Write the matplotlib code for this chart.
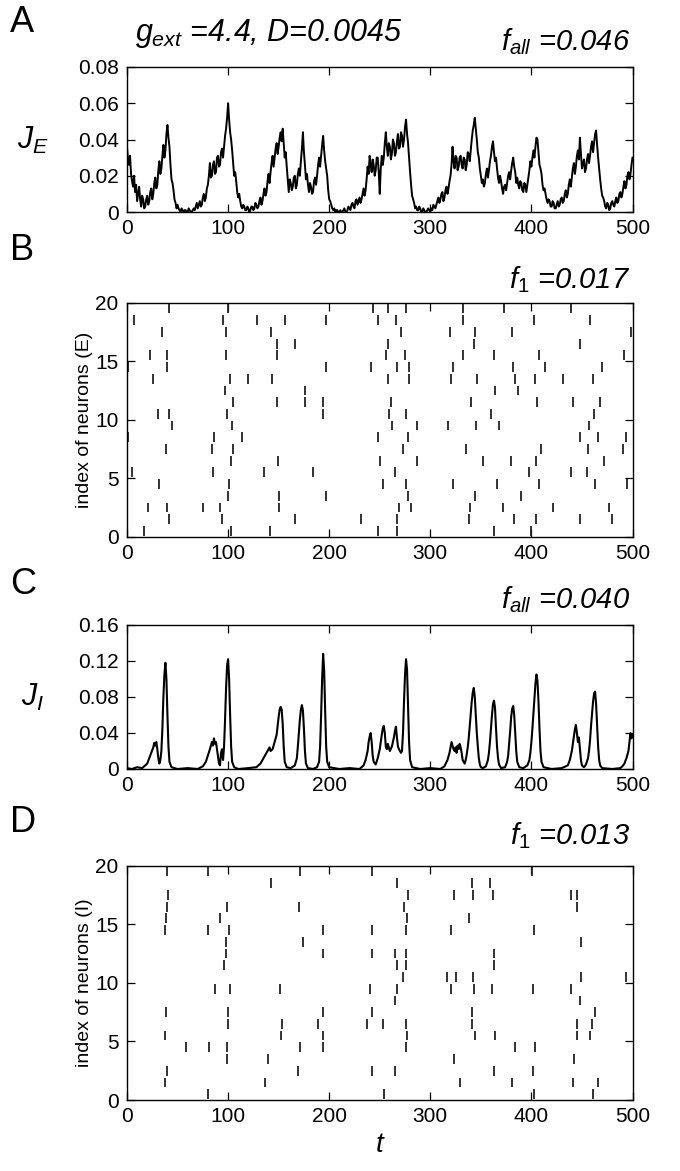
import matplotlib
matplotlib.use("Agg")
import matplotlib.pyplot as plt
import numpy as np

plt.rcParams['font.family'] = ['Liberation Sans', 'DejaVu Sans']
plt.rcParams['mathtext.fontset'] = 'custom'
plt.rcParams['mathtext.rm'] = 'Liberation Sans'
plt.rcParams['mathtext.it'] = 'Liberation Sans:italic'
plt.rcParams['mathtext.bf'] = 'Liberation Sans:bold'

# ---------------- data ----------------
x_ticks = [0, 100, 200, 300, 400, 500]
jE_yticks = [0, 0.02, 0.04, 0.06, 0.08]
jE_yticklabels = ["0", "0.02", "0.04", "0.06", "0.08"]
jI_yticks = [0, 0.04, 0.08, 0.12, 0.16]
jI_yticklabels = ["0", "0.04", "0.08", "0.12", "0.16"]
raster_yticks = [0, 5, 10, 15, 20]

# J_E sampled every time unit, t = 0..500
jE_time = np.arange(0, 501, 1)
jE_values = [
    0.036, 0.029, 0.026, 0.031, 0.021, 0.017, 0.014, 0.020, 0.011, 0.015,
    0.006, 0.010, 0.014, 0.007, 0.003, 0.009, 0.007, 0.002, 0.003, 0.007,
    0.009, 0.004, 0.006, 0.011, 0.013, 0.007, 0.010, 0.016, 0.019, 0.013,
    0.015, 0.023, 0.028, 0.021, 0.024, 0.031, 0.037, 0.030, 0.034, 0.043,
    0.048, 0.041, 0.036, 0.026, 0.018, 0.016, 0.012, 0.007, 0.005, 0.002,
    0.004, 0.002, 0.001, 0.000, 0.002, 0.001, 0.000, 0.001, 0.001, 0.000,
    0.000, 0.002, 0.001, 0.000, 0.000, 0.001, 0.002, 0.001, 0.003, 0.005,
    0.002, 0.004, 0.006, 0.003, 0.004, 0.008, 0.010, 0.006, 0.008, 0.013,
    0.015, 0.020, 0.027, 0.019, 0.020, 0.026, 0.028, 0.021, 0.022, 0.030,
    0.031, 0.025, 0.026, 0.033, 0.035, 0.030, 0.036, 0.042, 0.046, 0.052,
    0.060, 0.051, 0.044, 0.040, 0.034, 0.027, 0.020, 0.022, 0.017, 0.011,
    0.008, 0.010, 0.006, 0.003, 0.002, 0.004, 0.003, 0.001, 0.001, 0.003,
    0.002, 0.000, 0.001, 0.003, 0.003, 0.001, 0.002, 0.005, 0.004, 0.002,
    0.003, 0.006, 0.008, 0.004, 0.006, 0.010, 0.013, 0.009, 0.011, 0.017,
    0.021, 0.016, 0.022, 0.027, 0.031, 0.025, 0.030, 0.035, 0.038, 0.032,
    0.036, 0.041, 0.044, 0.039, 0.046, 0.038, 0.030, 0.033, 0.025, 0.018,
    0.011, 0.018, 0.016, 0.012, 0.014, 0.019, 0.020, 0.013, 0.015, 0.021,
    0.024, 0.020, 0.028, 0.035, 0.044, 0.033, 0.026, 0.018, 0.021, 0.015,
    0.011, 0.016, 0.014, 0.010, 0.011, 0.017, 0.019, 0.015, 0.020, 0.026,
    0.030, 0.025, 0.031, 0.037, 0.042, 0.034, 0.028, 0.024, 0.020, 0.012,
    0.007, 0.006, 0.004, 0.002, 0.001, 0.002, 0.000, 0.001, 0.001, 0.000,
    0.000, 0.001, 0.000, 0.000, 0.001, 0.002, 0.000, 0.000, 0.001, 0.003,
    0.002, 0.001, 0.004, 0.005, 0.003, 0.002, 0.006, 0.007, 0.004, 0.006,
    0.008, 0.005, 0.007, 0.010, 0.013, 0.009, 0.012, 0.018, 0.025, 0.021,
    0.031, 0.026, 0.022, 0.029, 0.026, 0.020, 0.023, 0.030, 0.030, 0.022,
    0.010, 0.024, 0.031, 0.026, 0.030, 0.038, 0.044, 0.036, 0.031, 0.038,
    0.036, 0.029, 0.032, 0.040, 0.038, 0.031, 0.033, 0.039, 0.043, 0.035,
    0.036, 0.044, 0.042, 0.036, 0.040, 0.047, 0.051, 0.043, 0.038, 0.030,
    0.022, 0.015, 0.009, 0.007, 0.005, 0.002, 0.003, 0.001, 0.001, 0.003,
    0.002, 0.000, 0.000, 0.002, 0.001, 0.000, 0.000, 0.001, 0.002, 0.001,
    0.000, 0.002, 0.001, 0.004, 0.003, 0.002, 0.004, 0.006, 0.008, 0.005,
    0.007, 0.010, 0.011, 0.006, 0.008, 0.012, 0.014, 0.010, 0.013, 0.017,
    0.020, 0.026, 0.036, 0.028, 0.024, 0.031, 0.030, 0.023, 0.025, 0.030,
    0.031, 0.026, 0.024, 0.030, 0.029, 0.023, 0.026, 0.033, 0.032, 0.028,
    0.034, 0.040, 0.045, 0.048, 0.052, 0.046, 0.040, 0.033, 0.030, 0.024,
    0.020, 0.016, 0.018, 0.014, 0.016, 0.021, 0.024, 0.019, 0.023, 0.028,
    0.031, 0.036, 0.039, 0.033, 0.028, 0.030, 0.024, 0.019, 0.016, 0.020,
    0.017, 0.013, 0.010, 0.014, 0.015, 0.012, 0.016, 0.020, 0.022, 0.018,
    0.023, 0.027, 0.030, 0.025, 0.022, 0.016, 0.019, 0.015, 0.013, 0.017,
    0.016, 0.012, 0.011, 0.016, 0.015, 0.011, 0.015, 0.019, 0.023, 0.028,
    0.025, 0.030, 0.034, 0.030, 0.036, 0.041, 0.040, 0.033, 0.026, 0.024,
    0.021, 0.015, 0.012, 0.013, 0.010, 0.007, 0.005, 0.007, 0.006, 0.003,
    0.003, 0.006, 0.005, 0.002, 0.002, 0.004, 0.006, 0.003, 0.004, 0.007,
    0.008, 0.005, 0.006, 0.010, 0.012, 0.008, 0.010, 0.015, 0.018, 0.014,
    0.019, 0.024, 0.027, 0.021, 0.025, 0.031, 0.034, 0.029, 0.041, 0.032,
    0.024, 0.027, 0.029, 0.022, 0.024, 0.029, 0.032, 0.027, 0.031, 0.036,
    0.039, 0.033, 0.038, 0.043, 0.045, 0.037, 0.030, 0.024, 0.018, 0.013,
    0.009, 0.008, 0.006, 0.003, 0.002, 0.005, 0.004, 0.001, 0.002, 0.005,
    0.006, 0.004, 0.003, 0.006, 0.008, 0.005, 0.006, 0.010, 0.011, 0.008,
    0.010, 0.014, 0.017, 0.013, 0.015, 0.020, 0.022, 0.018, 0.021, 0.026,
    0.030,
]

# J_I: (time, value) breakpoints
jI_time = [
    0, 5, 10, 15, 18, 20, 22, 24, 26, 27, 28, 29, 30, 31, 32, 33, 34, 35, 36, 37, 38, 39, 40, 41, 42, 44,
    50, 60, 70, 75, 78, 80, 82, 84, 85, 86, 87, 88, 89, 90, 91, 92, 93, 94, 95, 96, 97, 98, 99, 100,
    101, 102, 103, 104, 106, 110, 120, 128, 132, 135, 138, 140, 141, 142, 144, 146, 148, 149, 150,
    151, 152, 153, 154, 155, 156, 158, 162, 166, 168, 169, 170, 171, 172, 173, 174, 175, 176, 177,
    179, 184, 188, 190, 191, 192, 193, 194, 195, 196, 197, 198, 200, 210, 220, 230, 234, 236, 238,
    239, 240, 241, 242, 243, 244, 246, 248, 250, 251, 252, 253, 254, 255, 256, 257, 258, 259, 260,
    262, 264, 265, 266, 267, 268, 269, 270, 271, 272, 273, 274, 275, 276, 277, 278, 279, 280, 282,
    290, 300, 310, 314, 317, 319, 320, 321, 322, 323, 324, 325, 326, 327, 328, 329, 330, 331, 332,
    333, 334, 335, 336, 337, 338, 339, 340, 341, 342, 343, 344, 345, 346, 347, 348, 349, 350, 352,
    355, 357, 358, 359, 360, 361, 362, 363, 364, 365, 366, 367, 368, 370, 374, 376, 377, 378, 379,
    380, 381, 382, 383, 384, 385, 386, 388, 392, 396, 398, 399, 400, 401, 402, 403, 404, 405, 406,
    407, 408, 409, 410, 412, 420, 430, 436, 438, 440, 441, 442, 443, 444, 445, 446, 447, 448, 449,
    450, 452, 454, 456, 457, 458, 459, 460, 461, 462, 463, 464, 465, 466, 467, 468, 470, 480, 488,
    490, 492, 494, 496, 497, 498, 499, 500,
]
jI_values = [
    0.001, 0.000, 0.002, 0.001, 0.004, 0.006, 0.012, 0.018, 0.024, 0.029, 0.026, 0.030, 0.022, 0.012,
    0.006, 0.010, 0.020, 0.045, 0.080, 0.105, 0.118, 0.100, 0.060, 0.025, 0.008, 0.002,
    0.000, 0.001, 0.000, 0.003, 0.008, 0.015, 0.022, 0.030, 0.026, 0.034, 0.028, 0.030, 0.022, 0.014,
    0.006, 0.004, 0.018, 0.022, 0.010, 0.025, 0.055, 0.090, 0.115, 0.122,
    0.100, 0.060, 0.025, 0.008, 0.002, 0.000, 0.001, 0.002, 0.006, 0.012, 0.018, 0.022, 0.024, 0.020,
    0.022, 0.030, 0.038, 0.048, 0.058,
    0.066, 0.069, 0.066, 0.050, 0.025, 0.008, 0.002, 0.001, 0.004, 0.012, 0.025, 0.040, 0.055, 0.066,
    0.071, 0.065, 0.045, 0.020, 0.006,
    0.001, 0.000, 0.002, 0.008, 0.025, 0.060, 0.100, 0.128, 0.110, 0.065, 0.025, 0.008, 0.002, 0.000,
    0.001, 0.000, 0.004, 0.010, 0.020,
    0.030, 0.036, 0.040, 0.030, 0.015, 0.008, 0.005, 0.012, 0.022, 0.030, 0.038, 0.045, 0.048, 0.040,
    0.025, 0.022, 0.028, 0.024, 0.020,
    0.025, 0.035, 0.042, 0.047, 0.035, 0.025, 0.022, 0.020, 0.018, 0.020, 0.040, 0.075, 0.105, 0.122,
    0.110, 0.070, 0.030, 0.010, 0.002,
    0.000, 0.001, 0.000, 0.003, 0.010, 0.018, 0.024, 0.030, 0.026, 0.022, 0.020, 0.024, 0.018, 0.026,
    0.022, 0.028, 0.024, 0.018, 0.010,
    0.008, 0.006, 0.010, 0.016, 0.024, 0.034, 0.048, 0.062, 0.075, 0.085, 0.090, 0.080, 0.060, 0.040,
    0.025, 0.012, 0.005, 0.002, 0.001,
    0.003, 0.010, 0.018, 0.030, 0.045, 0.060, 0.072, 0.076, 0.068, 0.045, 0.025, 0.012, 0.005, 0.001,
    0.002, 0.008, 0.015, 0.028, 0.042,
    0.058, 0.067, 0.070, 0.060, 0.040, 0.020, 0.008, 0.002, 0.001, 0.004, 0.010, 0.018, 0.030, 0.045,
    0.062, 0.080, 0.095, 0.105, 0.098,
    0.075, 0.045, 0.020, 0.008, 0.002, 0.000, 0.001, 0.004, 0.010, 0.020, 0.028, 0.036, 0.044, 0.049,
    0.040, 0.030, 0.035, 0.022, 0.010,
    0.004, 0.002, 0.005, 0.012, 0.020, 0.032, 0.048, 0.062, 0.075, 0.084, 0.086, 0.072, 0.048, 0.025,
    0.010, 0.004, 0.001, 0.000, 0.001,
    0.003, 0.006, 0.012, 0.020, 0.030, 0.040, 0.034, 0.038,
]

# spike times per neuron (row index 0..19), excitatory
exc_spikes = [
    [17.2, 103.2, 141.6, 248.4, 266.9, 362.7, 400.0],
    [41.6, 93.5, 166.6, 231.5, 266.9, 338.3, 383.1, 404.2, 447.7, 479.5],
    [20.8, 39.3, 75.0, 91.6, 150.0, 269.2, 280.5, 339.3, 372.4, 421.8, 476.3],
    [100.0, 150.0, 196.4, 277.6, 344.0, 389.3],
    [31.2, 101.0, 252.9, 276.0, 322.7, 365.9, 408.0, 463.3, 494.8],
    [5.2, 85.4, 136.0, 184.4, 264.6, 397.4, 439.0, 455.2],
    [103.2, 149.0, 250.6, 286.4, 352.0, 379.9, 404.2, 471.4],
    [38.6, 83.8, 105.2, 272.7, 335.0, 409.7, 456.2, 490.9],
    [0.5, 86.4, 113.6, 248.4, 277.6, 447.7, 465.9, 494.0],
    [44.8, 104.2, 262.0, 286.4, 317.2, 344.8, 367.5, 456.8],
    [30.2, 41.6, 99.4, 194.0, 258.8, 276.0, 360.0, 462.3],
    [104.9, 148.0, 175.6, 194.0, 261.4, 340.6, 405.5, 441.2, 467.5],
    [96.8, 176.0, 363.6, 387.0],
    [26.0, 101.6, 119.5, 143.0, 257.8, 278.9, 320.5, 346.4, 383.8, 403.9, 430.8, 460.7],
    [1.3, 40.0, 197.0, 241.6, 266.9, 279.0, 322.0, 382.0, 413.0, 469.8],
    [23.0, 40.0, 97.7, 148.0, 256.0, 275.0, 332.0, 362.7, 407.5, 491.6],
    [148.7, 166.0, 258.0, 343.0, 448.0],
    [34.4, 97.7, 142.0, 271.0, 319.8, 344.0, 381.0, 498.4],
    [6.8, 95.0, 129.0, 156.0, 197.0, 248.4, 265.9, 332.5, 402.6, 458.4],
    [41.9, 100.0, 243.0, 258.0, 275.6, 332.5, 373.0, 439.0],
]

# spike times per neuron (row index 0..19), inhibitory
inh_spikes = [
    [80.5, 253.9, 402.9, 460.7],
    [38.0, 136.7, 329.2, 380.5, 441.2, 465.6],
    [39.3, 168.8, 242.5, 265.3, 362.7, 401.3],
    [99.4, 139.9, 323.7, 442.2],
    [58.8, 81.2, 99.4, 170.8, 194.2, 276.3, 383.4, 403.9],
    [38.0, 152.3, 194.2, 277.3, 344.5, 364.0, 445.5, 458.4],
    [100.3, 152.9, 188.6, 237.3, 252.9, 276.3, 341.2, 445.5, 460.0],
    [39.0, 99.7, 194.2, 242.2, 341.6, 463.0],
    [265.3, 447.7],
    [87.0, 101.6, 151.3, 240.6, 266.6, 320.1, 343.2, 361.0, 401.3, 439.6],
    [273.4, 316.2, 325.3, 342.2, 448.7, 493.2],
    [96.4, 266.6, 275.6, 362.7],
    [97.7, 193.5, 242.5, 265.3, 275.6, 362.7],
    [98.4, 174.0, 448.7],
    [38.0, 80.5, 101.0, 194.2, 242.5, 276.3, 320.1, 402.9],
    [39.0, 91.9, 277.3, 338.3],
    [40.0, 99.4, 169.8, 274.0, 445.5],
    [40.9, 277.9, 323.4, 342.2, 361.7, 439.6, 445.5],
    [142.5, 266.9, 341.2, 359.1],
    [39.3, 79.9, 170.8, 242.2, 400.6],
]

# ---------------- figure ----------------
FW, FH = 680, 1171
fig = plt.figure(figsize=(FW / 100, FH / 100), dpi=100)
L, R = 127, 632.5


def box(top, bottom):
    return [L / FW, 1 - bottom / FH, (R - L) / FW, (bottom - top) / FH]


axA = fig.add_axes(box(67, 212))
axB = fig.add_axes(box(302.7, 536.7))
axC = fig.add_axes(box(625, 769))
axD = fig.add_axes(box(865.7, 1100))

TICKSIZE = 15


def style(ax):
    ax.tick_params(direction='in', length=6, width=0.9, top=True, right=True,
                   labelsize=TICKSIZE, pad=6, colors='black')
    ax.tick_params(axis='x', pad=5)
    for s in ax.spines.values():
        s.set_linewidth(1.0)
    ax.set_xlim(0, 500)
    ax.set_xticks(x_ticks)
    ax.set_xticklabels([str(v) for v in x_ticks])


# A
axA.plot(jE_time, jE_values, color='black', lw=1.4)
style(axA)
axA.set_ylim(0, 0.08)
axA.set_yticks(jE_yticks)
axA.set_yticklabels(jE_yticklabels)

# B
for i, times in enumerate(exc_spikes):
    axB.vlines(times, i + 0.08, i + 0.92, color='#222222', lw=1.3)
style(axB)
axB.set_ylim(0, 20)
axB.set_yticks(raster_yticks)
axB.set_yticklabels([str(v) for v in raster_yticks])
axB.set_ylabel('index of neurons (E)', fontsize=14, labelpad=2)

# C
axC.plot(jI_time, jI_values, color='black', lw=1.5)
style(axC)
axC.set_ylim(0, 0.16)
axC.set_yticks(jI_yticks)
axC.set_yticklabels(jI_yticklabels)

# D
for i, times in enumerate(inh_spikes):
    axD.vlines(times, i + 0.08, i + 0.92, color='#222222', lw=1.3)
style(axD)
axD.set_ylim(0, 20)
axD.set_yticks(raster_yticks)
axD.set_yticklabels([str(v) for v in raster_yticks])
axD.set_ylabel('index of neurons (I)', fontsize=14, labelpad=2)


def ftext(x, y, s, **kw):
    fig.text(x / FW, 1 - y / FH, s, **kw)


# panel letters
for lab, y in [('A', 22), ('B', 250), ('C', 585), ('D', 822)]:
    ftext(10, y, lab, fontsize=26, ha='left', va='center')

# titles
ftext(135, 33, r'$g_{ext}$ =4.4, D=0.0045', fontsize=22, style='italic', ha='left', va='center')
ftext(630, 42, r'$f_{all}$ =0.046', fontsize=21, style='italic', ha='right', va='center')
ftext(630, 280, r'$f_{1}$ =0.017', fontsize=21, style='italic', ha='right', va='center')
ftext(630, 600, r'$f_{all}$ =0.040', fontsize=21, style='italic', ha='right', va='center')
ftext(630, 836, r'$f_{1}$ =0.013', fontsize=21, style='italic', ha='right', va='center')

# y labels for J panels
ftext(33, 140, r'$J_E$', fontsize=22, ha='center', va='center')
ftext(33, 697, r'$J_I$', fontsize=22, ha='center', va='center')

# x label
ftext(380, 1145, r'$t$', fontsize=20, ha='center', va='center')

fig.savefig('out.png', dpi=100)
